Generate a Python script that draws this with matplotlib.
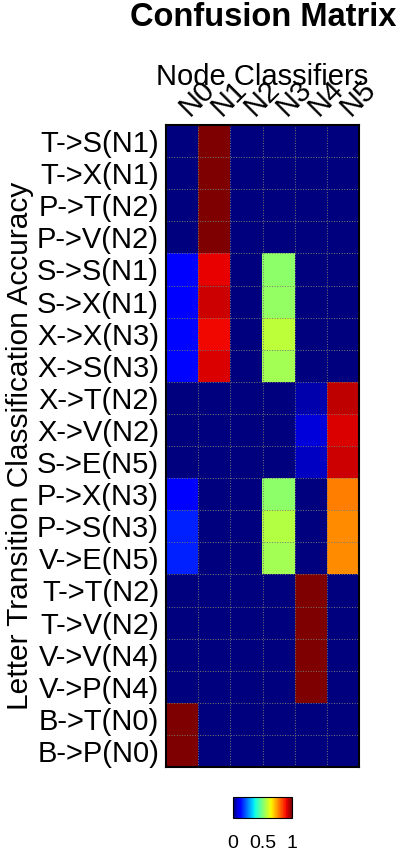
import numpy as np
import matplotlib
matplotlib.use("Agg")
import matplotlib.pyplot as plt
from matplotlib.transforms import ScaledTranslation

plt.rcParams['font.family'] = ['Liberation Sans', 'DejaVu Sans']

row_labels = ["T->S(N1)", "T->X(N1)", "P->T(N2)", "P->V(N2)",
              "S->S(N1)", "S->X(N1)", "X->X(N3)", "X->S(N3)",
              "X->T(N2)", "X->V(N2)", "S->E(N5)",
              "P->X(N3)", "P->S(N3)", "V->E(N5)",
              "T->T(N2)", "T->V(N2)", "V->V(N4)", "V->P(N4)",
              "B->T(N0)", "B->P(N0)"]
col_labels = ["N0", "N1", "N2", "N3", "N4", "N5"]

# accuracy per transition (rows) and node classifier (cols)
accuracy = [
    [0.00, 1.00, 0.00, 0.00, 0.00, 0.00],
    [0.00, 1.00, 0.00, 0.00, 0.00, 0.00],
    [0.00, 1.00, 0.00, 0.00, 0.00, 0.00],
    [0.00, 1.00, 0.00, 0.00, 0.00, 0.00],
    [0.11, 0.91, 0.00, 0.52, 0.00, 0.00],
    [0.12, 0.93, 0.00, 0.53, 0.00, 0.00],
    [0.13, 0.90, 0.00, 0.58, 0.00, 0.00],
    [0.13, 0.92, 0.00, 0.55, 0.00, 0.00],
    [0.00, 0.00, 0.00, 0.00, 0.04, 0.945],
    [0.00, 0.00, 0.00, 0.00, 0.08, 0.92],
    [0.00, 0.00, 0.00, 0.00, 0.06, 0.93],
    [0.11, 0.00, 0.00, 0.52, 0.00, 0.775],
    [0.16, 0.00, 0.00, 0.57, 0.00, 0.76],
    [0.16, 0.00, 0.00, 0.55, 0.00, 0.76],
    [0.00, 0.00, 0.00, 0.00, 1.00, 0.00],
    [0.00, 0.00, 0.00, 0.00, 1.00, 0.00],
    [0.00, 0.00, 0.00, 0.00, 1.00, 0.00],
    [0.00, 0.00, 0.00, 0.00, 1.00, 0.00],
    [1.00, 0.00, 0.00, 0.00, 0.00, 0.00],
    [1.00, 0.00, 0.00, 0.00, 0.00, 0.00],
]

W, H = 400, 850
fig = plt.figure(figsize=(W / 100, H / 100), dpi=100)

# main heatmap axes (pixel box 166..359 x 125..767)
ax = fig.add_axes([166 / W, 1 - 767 / H, 193 / W, 642 / H])
data = np.array(accuracy)
im = ax.imshow(data, cmap='jet', vmin=0, vmax=1, aspect='auto')

nr, nc = data.shape
ax.set_xticks(np.arange(nc))
ax.set_yticks(np.arange(nr))
ax.set_yticklabels(row_labels, fontsize=21)
ax.xaxis.tick_top()
ax.set_xticklabels(col_labels, fontsize=21, rotation=45, ha='left',
                   rotation_mode='anchor')
ax.tick_params(length=0, pad=5)
shift = ScaledTranslation(12 / 100, -3 / 100, fig.dpi_scale_trans)
for lbl in ax.get_xticklabels():
    lbl.set_transform(lbl.get_transform() + shift)

# dotted cell boundaries
ax.set_xticks(np.arange(-0.5, nc, 1), minor=True)
ax.set_yticks(np.arange(-0.5, nr, 1), minor=True)
ax.grid(which='minor', color='#777777', linestyle=':', linewidth=0.7)
ax.tick_params(which='minor', length=0)
for s in ax.spines.values():
    s.set_linewidth(1.5)

ax.set_ylabel("Letter Transition Classification Accuracy", fontsize=21.5, labelpad=2)
fig.text(262 / W, 1 - 85 / H, "Node Classifiers", fontsize=21,
         ha='center', va='baseline')
fig.text(396 / W, 1 - 26 / H, "Confusion Matrix", fontsize=23.5,
         fontweight='bold', ha='right', va='baseline')

# colorbar
cax = fig.add_axes([233 / W, 1 - 818 / H, 59 / W, 21 / H])
cb = fig.colorbar(im, cax=cax, orientation='horizontal', ticks=[0, 0.5, 1])
cb.ax.set_xticklabels(["0", "0.5", "1"])
cb.ax.tick_params(labelsize=14, length=0, pad=12)
cb.outline.set_linewidth(0.8)

fig.savefig("out.png", dpi=100)
